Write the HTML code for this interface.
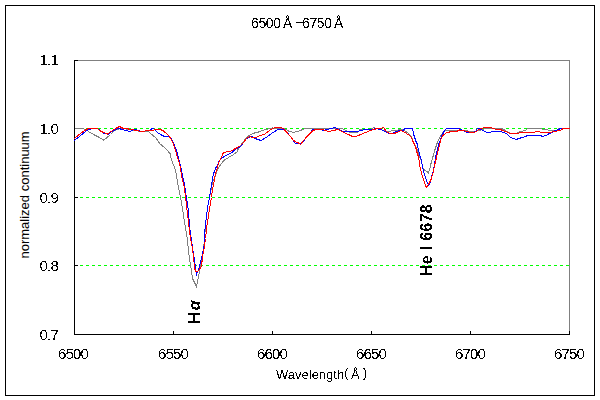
<!DOCTYPE html>
<html><head><meta charset="utf-8">
<style>
html,body{margin:0;padding:0;background:#fff;}
body{width:600px;height:400px;position:relative;overflow:hidden;font-family:"Liberation Sans",sans-serif;color:#000;}
svg{position:absolute;left:0;top:0;}
.t{position:absolute;white-space:nowrap;line-height:1;}
.f{position:absolute;left:0;top:0;width:600px;height:400px;filter:url(#th);}
.yl{left:0;width:58px;text-align:right;font-size:15px;letter-spacing:-0.75px;}
.xl{top:346px;width:80px;text-align:center;font-size:15px;letter-spacing:-0.8px;}
</style></head><body>
<svg width="600" height="400" viewBox="0 0 600 400" shape-rendering="crispEdges">
<rect x="5.5" y="5.5" width="589" height="390" fill="#fff" stroke="#000" stroke-width="1"/>
<!-- plot area -->
<path d="M74.5 60.5 H569.5 V334.5" fill="none" stroke="#808080" stroke-width="1"/>
<!-- grid -->
<g stroke="#00ff00" stroke-width="1" stroke-dasharray="3 3" shape-rendering="crispEdges">
<line x1="74" y1="128.5" x2="569" y2="128.5"/>
<line x1="74" y1="197.5" x2="569" y2="197.5"/>
<line x1="74" y1="265.5" x2="569" y2="265.5"/>
</g>
<!-- axes -->
<path d="M74.5 60 V334.5 H570" fill="none" stroke="#000" stroke-width="1"/>
<g stroke="#000" stroke-width="1">
<line x1="74" y1="60.5" x2="78" y2="60.5"/>
<line x1="74" y1="128.5" x2="78" y2="128.5"/>
<line x1="74" y1="197.5" x2="78" y2="197.5"/>
<line x1="74" y1="265.5" x2="78" y2="265.5"/>
<line x1="173.5" y1="331" x2="173.5" y2="334"/>
<line x1="272.5" y1="331" x2="272.5" y2="334"/>
<line x1="371.5" y1="331" x2="371.5" y2="334"/>
<line x1="470.5" y1="331" x2="470.5" y2="334"/>
<line x1="569.5" y1="331" x2="569.5" y2="334"/>
</g>
<g fill="none" stroke-width="1" shape-rendering="crispEdges" transform="translate(0.5,0.5)">
<polyline stroke="#808080" points="74,128 83,128 88,131 93,134 99,137 103,139.5 106,137.5 110,134 114,130 117,129 120,128 125,128.5 130,129 135,130 140,131 147,130.5 150,133 155.5,137.5 159.5,143.5 163.5,146.5 166.5,149.5 169.5,153 170,156 172,162 174,167 175,170 176,175 178,187 179,191.5 180,197 181,202.5 187,240 188,250.5 189,259 191,270.5 192,278 195,284 196,286 197,280.5 199,271.75 201,260.5 203,249 204,239 205,224.5 206,215 207,207.5 208,201.5 209,197 211,187 212,182 214,177.5 216,171.5 218,167 220.5,163.5 224,159.5 228,157 233,154 236.5,151.5 238.5,146.5 242.5,142 245.5,137.5 249.5,134.5 254,132.5 260,131 261.5,130 271.5,127.5 283.5,127.75 288.25,130.75 292.75,131.9 296.5,131.1 301.75,129.25 304.75,127.75 342,128 348,131.5 357,132 360,128.5 371,128.5 373,127 375,128 380,129 387,131 395,130 400,129 404,130 408,133 411,136 413.5,143 415.5,147 417.5,151 419.5,157 421,161 422,166.75 424.25,169.75 426.5,171.25 428,172.4 429.1,169 430.25,164 432.5,156 434.5,149 436.5,143 439,137 441,134 443.5,131 445.5,130 465,130 470,131 475,131 478,130 482,129 485,128 501,128 505,130 510,133 516,133 520,131 525,130 527,128 541,128 542,129 547,129 548,130 556,130 558,128.5 565,128 569,128"/>
<polyline stroke="#0000ff" points="74,140 80,135 85,131 88,129 90,128.5 97,128 100,130 103,132.5 108,133.5 111,131 113,130 115,129 118,128 122,129 125,130 129.5,131 132.5,129.5 135.5,129 139.5,130.5 144.5,130.5 149.5,129.5 152.5,127.5 154,129 157,132 160,134 163,135.5 168,135.5 169,136 172,140 174,145 176,150 178,158 180,165 181,170 182,175 184,184 185,190.5 186,198 187,203.5 188,212 189,225 190,233 191,240 192,246.75 194,260 195,266.75 196,274 198,269 200,261.75 202,253 204,243 204,233.5 205,224.5 206,215 207,207.5 208,201.5 209,197 210,190.5 211,184.5 212,178.5 213,173.5 214,170.5 215,168 217,164.5 218.5,161 221,158 225,155 230,153 235,149 240,146 243,142 246,138 251,136 254.5,138 260.5,140 265.5,137 272.5,132 277.75,128.9 281.5,128.9 284.5,129.6 291.25,137.5 294.25,142.4 297.25,143.1 301,143.5 305.5,137.5 310,132.25 312.25,128.9 316,129 320,129 323,130 327,129 330,128 335,127 338,129 343,131 348,131 352,131 357,131 360,130 366,129 372,129 375,128 380,129 385,131 388,133 392,133 395,131 400,130 403,130 404,128 412,128 413.5,135 415.5,141 417,144 418,150 420,157 421,160 422,167.5 423.1,170.5 424.25,175 425.75,179.5 427.25,183.25 428,185 429.5,182.5 431,176.5 432.1,172.75 433.25,168.25 434,164 435.5,155 437,149 438.5,143 440,139 441.5,135 443,132 444.5,129.5 446.5,128 458,128 462,130 465,131 468,132.5 472,132 475,131 477,128 479,128 482,130 485,131 487,132.5 490,132 491,131 500,131 503,132 506,133 510,137 513,138 516,139 518,138 522,137 525,136 527,135 541,135 541,136 543,136 544,135 546,135 547,134 549,133 551,132 555,130 558,129 560,128 569,128"/>
<polyline stroke="#ff0000" points="74,138 80,133 84,130 88,128 97,128 100,130.5 103,132 107,133.5 109,132 112,130 115,128 117,127 119,126 121,127 123,128 128,128.5 133,129.5 137,130 140,131 145,130.5 154,129.5 160,129 163,130.5 168,135 171,139 173,144 175,150 177,157 179,163 180,168 181,175 184,188 185,196 186,205 187,213.5 188,222 189,230 190,238 192,248 193,256.75 194,266.75 195,271 197,271 199,269 201,265.5 202,256.75 204,245.5 205,238 206,228.5 207,221.5 208,215 209,208.5 210,202.5 211,197 212,189 214,179 215,173 217,166.5 218.5,161.5 223,152 226,151.5 230,151 233,149 237,147 240,145 243,142 246,138 249,136 252,137 255,137 257.5,136 264.5,133.5 270.5,129 274.5,127 280,127 283,128.1 285.25,130.75 290.5,136.75 292.75,139.75 295,141.25 298,142.4 300.25,143.9 303.25,139.75 307,135.5 311.5,130.75 314.5,129.25 316,129 322,129 325,130 328,131 333,130 337,129 340,130 343,132 348,134 352,136 357,135.5 360,134 365,132 370,130 375,128.5 380,128 383,127 386,131 389,133 393,133 397,132 400,130 403,131 406,133 409,135 411,137 412.5,141 414,144 415.5,148 416.5,152 417.5,155 418.5,159 419,164.5 420,169 421.25,173.5 422.5,177.25 423.5,180.25 424.6,184 425.75,187 427,185.5 428.75,182.5 430.6,178.75 432,174.25 433.25,169 434.5,163 436.5,155 438,148 439.5,143 441,137 442.5,135 444.5,133.5 446.5,132 449,131.5 456,131 459,129.5 463,130 468,131.5 474,132 477,130 480,128 485,127 490,127 496,129 501,129.5 505,131 510,133 519,132.5 520,132 534,132 535,131 539,131 540,132 551,132 552,131 556,131 557,130 560,130 562,128.5 564,128 569,128"/>
</g>
</svg>
<div class="t" style="left:-39px;top:189px;font-size:13px;transform:rotate(-90deg);width:126px;">normalized continuum</div>
<div class="f">
<div class="t" style="left:251px;top:16px;font-size:14px;letter-spacing:-0.4px;">6500</div>
<div class="t" style="left:283px;top:16px;font-size:14px;">Å</div>
<div class="t" style="left:296px;top:14px;font-size:14px;transform:scaleX(1.15);transform-origin:0 0;">–</div>
<div class="t" style="left:302px;top:16px;font-size:14px;letter-spacing:-0.4px;">6750</div>
<div class="t" style="left:334px;top:16px;font-size:14px;">Å</div>
<div class="t yl" style="top:52px;">1.1</div>
<div class="t yl" style="top:121px;">1.0</div>
<div class="t yl" style="top:190px;">0.9</div>
<div class="t yl" style="top:258px;">0.8</div>
<div class="t yl" style="top:327px;">0.7</div>
<div class="t xl" style="left:33px;">6500</div>
<div class="t xl" style="left:133px;">6550</div>
<div class="t xl" style="left:232px;">6600</div>
<div class="t xl" style="left:331px;">6650</div>
<div class="t xl" style="left:430px;">6700</div>
<div class="t xl" style="left:529px;">6750</div>
<div class="t" style="left:276px;top:368px;font-size:13px;">Wavelength</div>
<div class="t" style="left:344px;top:366px;font-size:13px;">(</div>
<div class="t" style="left:351px;top:368px;font-size:13px;">Å</div>
<div class="t" style="left:363px;top:366px;font-size:13px;">)</div>
<div class="t" style="left:183px;top:304px;font-size:16px;font-weight:bold;transform:rotate(-90deg);"><span style="margin-right:2px">H</span><i>α</i></div>
<div class="t" style="left:391px;top:232px;font-size:16px;font-weight:bold;letter-spacing:0.3px;transform:rotate(-90deg);">He I 6678</div>
</div>
<svg width="0" height="0" style="position:absolute"><filter id="th" x="0" y="0" width="600" height="400" filterUnits="userSpaceOnUse"><feComponentTransfer><feFuncA type="discrete" tableValues="0 1"/></feComponentTransfer></filter></svg>
</body></html>
